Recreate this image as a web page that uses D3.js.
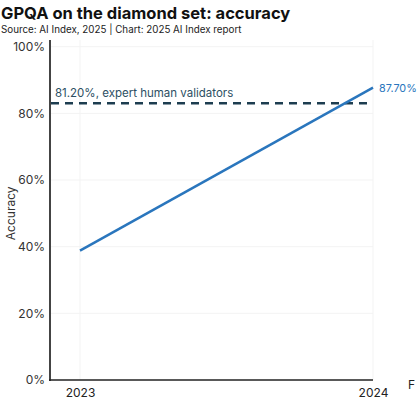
<!DOCTYPE html>
<html>
<head>
<meta charset="utf-8">
<script src="https://cdn.jsdelivr.net/npm/d3@7"></script>
<style>
  body { margin: 0; background: #fff; overflow: hidden; }
  text { font-family: Inter, "Noto Sans", sans-serif; }
</style>
</head>
<body>
<div id="chart"></div>
<script>
const years = ['2023', '2024']
const accuracy = [38.8, 87.7]
const yTicks = [0, 20, 40, 60, 80, 100]
// expert human baseline: label says 81.20%, the dashed line is drawn a bit higher
const baselineLabel = '81.20%, expert human validators'
const baselineDrawn = [83]

const width = 419,
      height = 405

const svg = d3.select('#chart')
  .append('svg')
  .attr('width', width)
  .attr('height', height)

svg.append('text')
  .attr('x', 1).attr('y', 19)
  .style('font-size', '16.5px').style('font-weight', 700).attr('fill', '#111')
  .text('GPQA on the diamond set: accuracy')

svg.append('text')
  .attr('x', 1).attr('y', 33)
  .style('font-size', '9.8px').attr('fill', '#222')
  .text('Source: AI Index, 2025 | Chart: 2025 AI Index report')

const x = d3.scalePoint()
  .domain(years)
  .range([80, 373])

const y = d3.scaleLinear()
  .domain([0, 100])
  .range([380, 46.7])

// faint grid
svg.append('g')
  .selectAll('line.h')
  .data(yTicks.slice(1))
  .enter().append('line')
  .attr('x1', 50).attr('x2', 373)
  .attr('y1', d => y(d)).attr('y2', d => y(d))
  .attr('stroke', '#f3f3f3')
svg.append('g')
  .selectAll('line.v')
  .data(years)
  .enter().append('line')
  .attr('x1', d => x(d)).attr('x2', d => x(d))
  .attr('y1', 40).attr('y2', 380)
  .attr('stroke', '#f3f3f3')

// y axis
const yAxis = svg.append('g')
  .attr('transform', 'translate(50,0)')
  .call(d3.axisLeft(y).tickValues(yTicks).tickSize(0).tickPadding(5).tickFormat(d => d + '%'))
yAxis.select('.domain').remove()
yAxis.selectAll('text').style('font-size', '12px').attr('fill', '#333')
svg.append('line')
  .attr('x1', 50).attr('x2', 50).attr('y1', 40).attr('y2', 381)
  .attr('stroke', '#444').attr('stroke-width', 2)

// x axis
const xAxis = svg.append('g')
  .attr('transform', 'translate(0,380)')
  .call(d3.axisBottom(x).tickSize(0).tickPadding(8))
xAxis.select('.domain').remove()
xAxis.selectAll('text').style('font-size', '12px').attr('fill', '#222')
svg.append('line')
  .attr('x1', 49).attr('x2', 373).attr('y1', 380).attr('y2', 380)
  .attr('stroke', '#222').attr('stroke-width', 1.5)

svg.append('text')
  .attr('x', 408).attr('y', 389)
  .style('font-size', '12px').attr('fill', '#222')
  .text('F')

svg.append('text')
  .attr('transform', 'translate(15,' + y(50) + ') rotate(-90)')
  .attr('text-anchor', 'middle')
  .style('font-size', '12px').attr('fill', '#333')
  .text('Accuracy')

// human baseline
svg.selectAll('.baseline')
  .data(baselineDrawn)
  .enter().append('line')
  .attr('class', 'baseline')
  .attr('x1', 51).attr('x2', 370)
  .attr('y1', d => y(d)).attr('y2', d => y(d))
  .attr('stroke', '#1d3d50').attr('stroke-width', 2.5)
  .attr('stroke-dasharray', '8,6')

svg.append('text')
  .attr('x', 55).attr('y', y(baselineDrawn[0]) - 6)
  .style('font-size', '11.5px').attr('fill', '#2d4f63')
  .text(baselineLabel)

// accuracy line
const line = d3.line()
  .x((d, i) => x(years[i]))
  .y(d => y(d))

svg.append('path')
  .datum(accuracy)
  .attr('d', line)
  .attr('fill', 'none')
  .attr('stroke', '#2a76bd')
  .attr('stroke-width', 2.5)

svg.append('text')
  .attr('x', x(years[1]) + 6).attr('y', y(accuracy[1]) + 4)
  .style('font-size', '10.8px').attr('fill', '#2a76bd')
  .text(accuracy[1].toFixed(2) + '%')
</script>
</body>
</html>
